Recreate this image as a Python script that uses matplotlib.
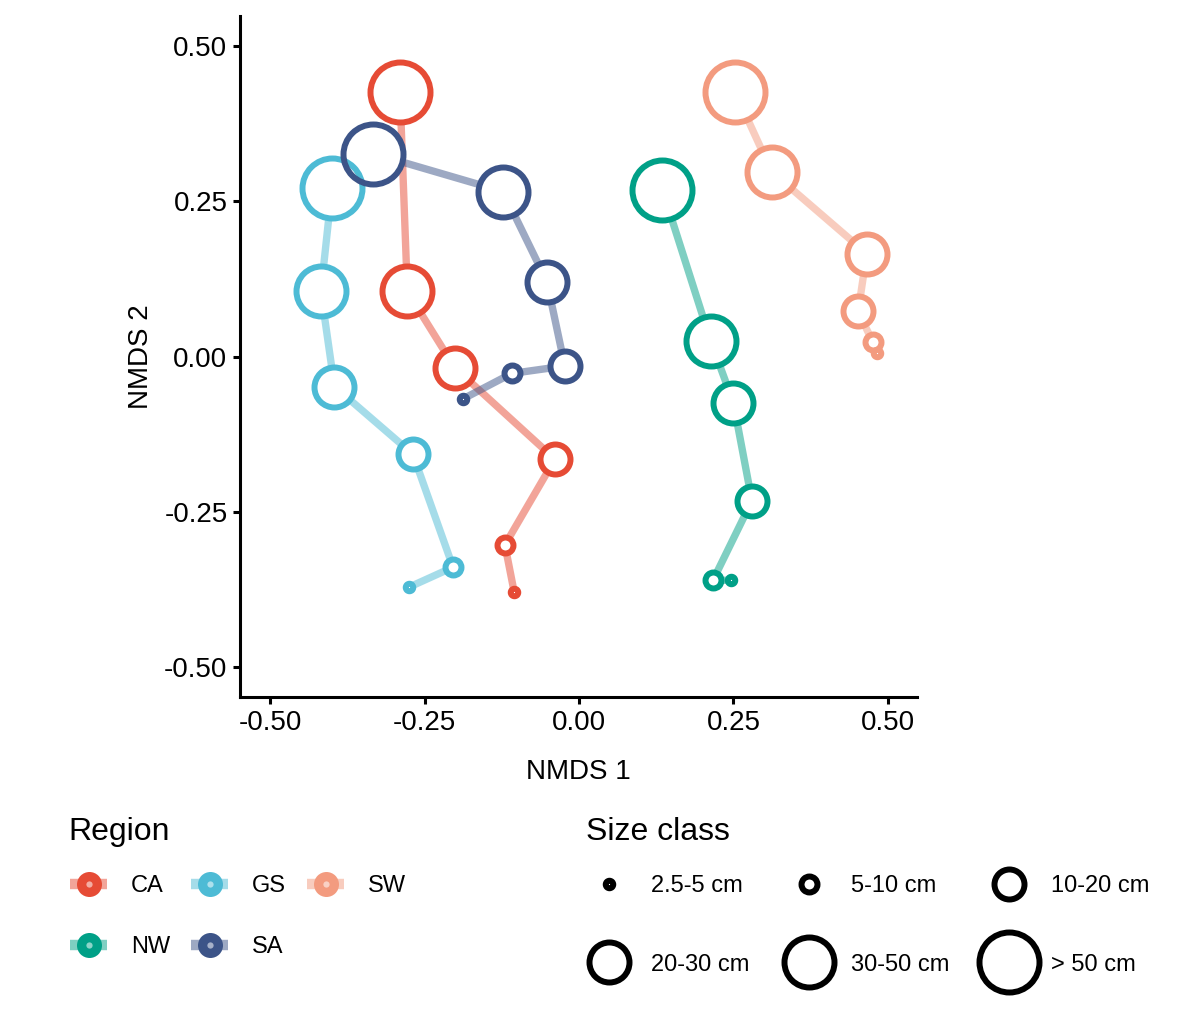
import numpy as np
import matplotlib
matplotlib.use("Agg")
import matplotlib.pyplot as plt
from matplotlib.lines import Line2D

plt.rcParams['font.family'] = ['Liberation Sans', 'DejaVu Sans']

# size classes, smallest to largest
size_labels = ["2.5-5 cm", "5-10 cm", "10-20 cm", "20-30 cm", "30-50 cm", "> 50 cm"]
size_ms = [5.4, 11.5, 21.6, 28.8, 36.0, 43.2]

# NMDS coordinates per region, ordered largest -> smallest size class
ca_x = [-0.290, -0.278, -0.201, -0.039, -0.120, -0.105]
ca_y = [0.426, 0.105, -0.018, -0.165, -0.303, -0.379]
gs_x = [-0.400, -0.418, -0.396, -0.269, -0.204, -0.275]
gs_y = [0.272, 0.105, -0.048, -0.157, -0.339, -0.371]
nw_x = [0.135, 0.213, 0.250, 0.280, 0.217, 0.246]
nw_y = [0.269, 0.026, -0.074, -0.232, -0.360, -0.360]
sa_x = [-0.333, -0.123, -0.052, -0.023, -0.109, -0.188]
sa_y = [0.327, 0.266, 0.121, -0.015, -0.027, -0.068]
sw_x = [0.253, 0.312, 0.466, 0.452, 0.476, 0.483]
sw_y = [0.426, 0.298, 0.166, 0.073, 0.023, 0.006]

regions = ["CA", "GS", "NW", "SA", "SW"]
xs = [ca_x, gs_x, nw_x, sa_x, sw_x]
ys = [ca_y, gs_y, nw_y, sa_y, sw_y]
colors = {"CA": "#E64B35", "GS": "#4DBBD5", "NW": "#00A087",
          "SA": "#3C5488", "SW": "#F39B7F"}
MEW = 4.3

fig = plt.figure(figsize=(12, 10.25), dpi=100)
ax = fig.add_axes([0.2, 0.32, 0.564, 0.664])

# paths, then white fills, then the rings on top
for reg, x, y in zip(regions, xs, ys):
    ax.plot(x, y, color=colors[reg], alpha=0.5, lw=5.3, solid_capstyle="butt", zorder=1)
for reg, x, y in zip(regions, xs, ys):
    for xi, yi, ms in zip(x, y, size_ms[::-1]):
        ax.plot(xi, yi, "o", ms=ms, mfc="white", mec="none", zorder=2)
for reg, x, y in zip(regions, xs, ys):
    for xi, yi, ms in zip(x, y, size_ms[::-1]):
        ax.plot(xi, yi, "o", ms=ms, mfc="none", mec=colors[reg], mew=MEW, zorder=3)

ax.set_xlim(-0.549, 0.547)
ax.set_ylim(-0.548, 0.548)
ticks = [-0.5, -0.25, 0, 0.25, 0.5]
ax.set_xticks(ticks, ["-0.50", "-0.25", "0.00", "0.25", "0.50"])
ax.set_yticks(ticks, ["-0.50", "-0.25", "0.00", "0.25", "0.50"])
ax.tick_params(labelsize=20, length=5, width=2.2, color="black", pad=4)
for s in ["top", "right"]:
    ax.spines[s].set_visible(False)
for s in ["left", "bottom"]:
    ax.spines[s].set_linewidth(2.2)
ax.set_xlabel("NMDS 1", fontsize=20, labelpad=17)
ax.set_ylabel("NMDS 2", fontsize=20, labelpad=7)

# legend titles
fig.text(68 / 1200, 1 - 832 / 1025, "Region", fontsize=23, va="center", ha="left")
fig.text(586 / 1200, 1 - 832 / 1025, "Size class", fontsize=23, va="center", ha="left")

# region legend (column-major fill gives rows CA GS SW / NW SA)
leg_order = ["CA", "NW", "GS", "SA", "SW"]
reg_handles = []
for r in leg_order:
    line = Line2D([], [], color=colors[r], lw=7.5, alpha=0.5, solid_capstyle="butt")
    dot = Line2D([], [], ls="none", marker="o", ms=18, mfc=colors[r], mec="none")
    inner = Line2D([], [], ls="none", marker="o", ms=4.5, mfc="white", mec="none", alpha=0.55)
    reg_handles.append((line, dot, inner))
leg1 = fig.legend(reg_handles, leg_order, ncol=3,
                  loc="upper left", bbox_to_anchor=(70 / 1200, 1 - 875 / 1025),
                  frameon=False, borderpad=0, borderaxespad=0, fontsize=17,
                  handlelength=1.57, handletextpad=1.0,
                  columnspacing=0.9, labelspacing=1.65)

# size legend, row-major fill
order = [0, 3, 1, 4, 2, 5]
size_handles = [Line2D([], [], ls="none", marker="o", ms=size_ms[i], mfc="none",
                       mec="black", mew=MEW) for i in order]
leg2 = fig.legend(size_handles, [size_labels[i] for i in order], ncol=3,
                  loc="upper left", bbox_to_anchor=(583 / 1200, 1 - 875 / 1025),
                  frameon=False, borderpad=0, borderaxespad=0, fontsize=17,
                  handlelength=2.2, handletextpad=0.7,
                  columnspacing=1.4, labelspacing=2.4)

fig.savefig("out.png", dpi=100)
